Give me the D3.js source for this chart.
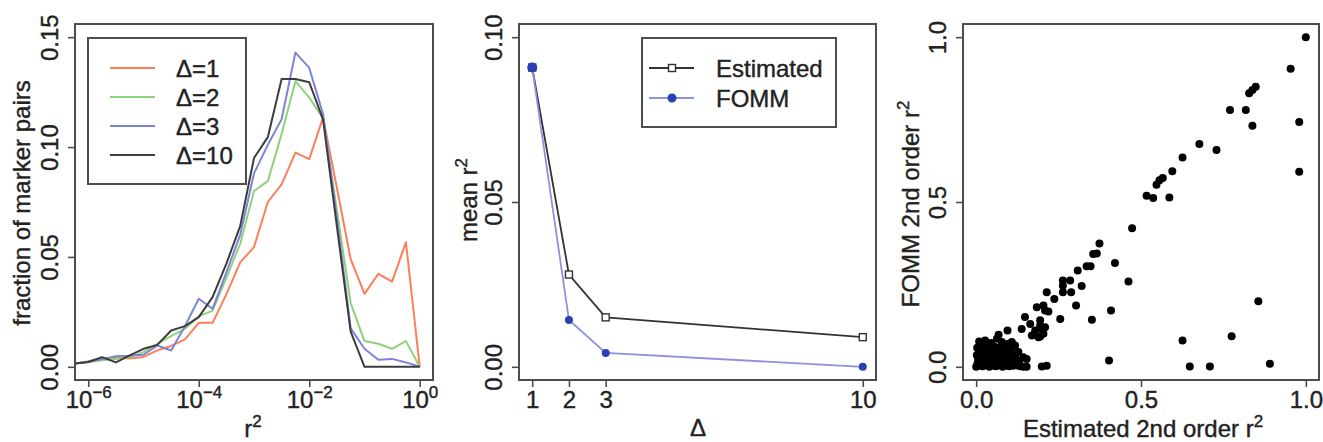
<!DOCTYPE html>
<html>
<head>
<meta charset="utf-8">
<script src="https://cdn.jsdelivr.net/npm/d3@7"></script>
<style>
  body { margin: 0; background: #fff; }
  svg { display: block; font-family: "Liberation Sans", Arial, sans-serif; }
  text { stroke: #222; stroke-width: 0.4px; }
</style>
</head>
<body>
<svg id="fig" width="1323" height="442"></svg>
<script>
// ---------- data ----------
// left panel: histogram of r^2 (log10 bins)
const binLog10 = [-6.25, -6, -5.75, -5.5, -5.25, -5, -4.75, -4.5, -4.25, -4, -3.75, -3.5, -3.25,
  -3, -2.75, -2.5, -2.25, -2, -1.75, -1.5, -1.25, -1, -0.75, -0.5, -0.25, 0];
const fracDelta1 = [0.0015, 0.0025, 0.0038, 0.0042, 0.0038, 0.0045, 0.0075, 0.0095, 0.0125, 0.0200, 0.0200, 0.0330, 0.0475,
  0.0545, 0.0750, 0.0830, 0.0975, 0.0945, 0.1135, 0.0815, 0.0490, 0.0332, 0.0423, 0.0388, 0.0567, 0];
const fracDelta2 = [0.0015, 0.0022, 0.0030, 0.0036, 0.0045, 0.0067, 0.0105, 0.0140, 0.0173, 0.0230, 0.0256, 0.0405, 0.0560,
  0.0800, 0.0845, 0.1060, 0.1300, 0.1225, 0.1130, 0.0715, 0.0290, 0.0117, 0.0105, 0.0082, 0.0117, 0];
const fracDelta3 = [0.0015, 0.0022, 0.0035, 0.0048, 0.0050, 0.0055, 0.0097, 0.0074, 0.0185, 0.0310, 0.0264, 0.0430, 0.0600,
  0.0880, 0.1010, 0.1127, 0.1430, 0.1360, 0.1150, 0.0680, 0.0175, 0.0082, 0.0032, 0.0036, 0.0020, 0];
const fracDelta10 = [0.0015, 0.0022, 0.0044, 0.0020, 0.0052, 0.0082, 0.0100, 0.0165, 0.0185, 0.0226, 0.0317, 0.0470, 0.0640,
  0.0950, 0.1045, 0.1310, 0.1310, 0.1295, 0.1125, 0.0640, 0.0160, 0, 0, 0, 0, 0];
const histLabels = ["Δ=1", "Δ=2", "Δ=3", "Δ=10"];
const histColors = ["#fa7f5a", "#8fd27c", "#7d84d8", "#3d3d3d"];
const histXTicks = [1e-6, 1e-4, 1e-2, 1];
const histYTicks = [0, 0.05, 0.10, 0.15];
const histYLabels = ["0.00", "0.05", "0.10", "0.15"];

// middle panel: mean r^2 by Delta
const deltas = [1, 2, 3, 10];
const meanEstimated = [0.0908, 0.0280, 0.0150, 0.0090];
const meanFOMM = [0.0908, 0.0142, 0.0042, 0.0000];
const meanYTicks = [0, 0.05, 0.10];
const meanYLabels = ["0.00", "0.05", "0.10"];

// right panel: estimated vs FOMM 2nd order r^2  [estimated, fomm]
const scatterPoints = [
  [1.0, 1.0], [0.954, 0.904], [0.980, 0.743], [0.980, 0.592], [0.828, 0.830], [0.838, 0.840], [0.848, 0.850],
  [0.770, 0.779], [0.818, 0.779], [0.838, 0.731], [0.677, 0.676], [0.729, 0.658], [0.626, 0.635], [0.595, 0.593],
  [0.566, 0.573], [0.547, 0.552], [0.556, 0.566], [0.517, 0.519], [0.537, 0.512], [0.586, 0.514], [0.473, 0.420],
  [0.421, 0.315], [0.374, 0.374], [0.355, 0.342], [0.366, 0.344], [0.335, 0.305], [0.347, 0.305], [0.308, 0.292],
  [0.462, 0.259], [0.320, 0.245], [0.285, 0.262], [0.263, 0.262], [0.263, 0.246], [0.288, 0.226], [0.263, 0.226],
  [0.237, 0.206], [0.214, 0.226], [0.303, 0.186], [0.409, 0.171], [0.255, 0.145], [0.351, 0.143], [0.856, 0.199],
  [0.775, 0.093], [0.626, 0.080], [0.403, 0.019], [0.648, 0.001], [0.709, 0.001], [0.891, 0.009],
  [0.204, 0.186], [0.209, 0.171], [0.219, 0.168], [0.194, 0.141], [0.209, 0.120], [0.199, 0.115], [0.194, 0.092],
  [0.199, 0.001], [0.214, 0.003], [0.184, 0.181], [0.148, 0.151], [0.138, 0.115], [0.164, 0.130], [0.179, 0.110],
  [0.194, 0.125], [0.169, 0.095], [0.189, 0.090], [0.204, 0.100], [0.143, 0.000], [0.153, 0.000],
  [0.009, 0.077], [0.027, 0.080], [0.068, 0.097], [0.095, 0.110], [0.063, 0.085], [0.078, 0.075], [0.108, 0.075],
  [0.118, 0.065], [0.128, 0.045], [0.143, 0.029], [0.153, 0.024],
  [0.000, 0.000], [0.004, 0.010], [0.006, 0.022], [0.002, 0.035], [0.008, 0.045], [0.010, 0.004], [0.012, 0.016],
  [0.014, 0.028], [0.016, 0.040], [0.018, 0.052], [0.020, 0.002], [0.022, 0.012], [0.024, 0.024], [0.026, 0.034],
  [0.028, 0.046], [0.030, 0.006], [0.032, 0.018], [0.034, 0.030], [0.036, 0.042], [0.038, 0.056], [0.040, 0.000],
  [0.042, 0.010], [0.044, 0.021], [0.046, 0.033], [0.048, 0.044], [0.050, 0.004], [0.052, 0.015], [0.054, 0.027],
  [0.056, 0.038], [0.058, 0.060], [0.060, 0.002], [0.062, 0.012], [0.064, 0.024], [0.066, 0.036], [0.068, 0.048],
  [0.070, 0.006], [0.072, 0.017], [0.074, 0.029], [0.076, 0.041], [0.078, 0.063], [0.080, 0.000], [0.082, 0.011],
  [0.084, 0.022], [0.086, 0.034], [0.088, 0.052], [0.090, 0.004], [0.092, 0.015], [0.094, 0.026], [0.096, 0.040],
  [0.098, 0.070], [0.100, 0.002], [0.103, 0.012], [0.106, 0.024], [0.109, 0.036], [0.112, 0.003], [0.115, 0.016],
  [0.118, 0.028], [0.121, 0.008], [0.124, 0.020], [0.127, 0.004], [0.130, 0.012], [0.134, 0.002], [0.003, 0.058],
  [0.012, 0.064], [0.024, 0.068], [0.045, 0.072], [0.050, 0.062], [0.070, 0.055], [0.085, 0.065], [0.105, 0.050]
];
const scatterTicks = [0, 0.5, 1.0];
const scatterTickLabels = ["0.0", "0.5", "1.0"];

// ---------- shared styling ----------
const frameColor = "#4d4d4d";
const textColor = "#222";
const plotTop = 24, plotBottom = 380;

const svg = d3.select("#fig");

const drawFrame = (x0, x1) => {
  svg.append("rect")
    .attr("x", x0).attr("y", plotTop)
    .attr("width", x1 - x0).attr("height", plotBottom - plotTop)
    .attr("fill", "none")
    .attr("stroke", frameColor)
    .attr("stroke-width", 2);
};

const styleAxis = (g) => {
  g.attr("font-size", 24).attr("font-family", null);
  g.select(".domain").remove();
  g.selectAll(".tick line").attr("stroke", frameColor).attr("stroke-width", 1.6);
  g.selectAll(".tick text").attr("fill", textColor);
};

const yAxis = (scale, x0, ticks, labels) => {
  const g = svg.append("g")
    .attr("transform", `translate(${x0},0)`)
    .call(d3.axisLeft(scale).tickValues(ticks).tickSize(7)
      .tickFormat((d, i) => labels[i]));
  styleAxis(g);
  g.selectAll(".tick text")
    .attr("x", null).attr("dy", null)
    .attr("text-anchor", "middle")
    .attr("transform", "translate(-17,0) rotate(-90)");
  return g;
};

const xAxis = (scale, ticks, fmt) => {
  const g = svg.append("g")
    .attr("transform", `translate(0,${plotBottom})`)
    .call(d3.axisBottom(scale).tickValues(ticks).tickSize(7).tickFormat(fmt));
  styleAxis(g);
  g.selectAll(".tick text").attr("y", 28).attr("dy", null);
  return g;
};

// text with an optional trailing superscript
const labelWithSup = (x, y, base, sup, rotate) => {
  const t = svg.append("text")
    .attr("transform", `translate(${x},${y})` + (rotate ? " rotate(-90)" : ""))
    .attr("text-anchor", "middle")
    .attr("font-size", 24)
    .attr("fill", textColor);
  t.append("tspan").text(base);
  if (sup) {
    t.append("tspan").attr("dy", -10).attr("font-size", 17).text(sup);
  }
  return t;
};

// ---------- left panel ----------
const xL = d3.scaleLog().domain([Math.pow(10, -6.24), Math.pow(10, 0.24)]).range([75, 433]);
const yL = d3.scaleLinear().domain([-0.006, 0.156]).range([plotBottom, plotTop]);

svg.append("clipPath").attr("id", "clipL")
  .append("rect").attr("x", 75).attr("y", plotTop).attr("width", 358).attr("height", plotBottom - plotTop);

const histSeries = [fracDelta1, fracDelta2, fracDelta3, fracDelta10];
const histLine = d3.line()
  .x((d, i) => xL(Math.pow(10, binLog10[i])))
  .y((d) => yL(d));

svg.append("g").attr("clip-path", "url(#clipL)")
  .selectAll("path")
  .data(histSeries)
  .enter()
  .append("path")
  .attr("d", histLine)
  .attr("fill", "none")
  .attr("stroke", (d, i) => histColors[i])
  .attr("stroke-width", 2)
  .attr("stroke-linejoin", "round");

drawFrame(75, 433);
yAxis(yL, 75, histYTicks, histYLabels);

const gxL = xAxis(xL, histXTicks, () => "");
gxL.selectAll(".tick text").each(function (d) {
  const t = d3.select(this);
  const e = Math.round(Math.log10(d));
  t.append("tspan").text("10");
  t.append("tspan").attr("dy", -10).attr("font-size", 17).text(e < 0 ? "\u2212" + -e : e);
});

labelWithSup(30, 203, "fraction of marker pairs", null, true);
labelWithSup(253, 437, "r", "2", false);

// legend
svg.append("rect")
  .attr("x", 88).attr("y", 38).attr("width", 158).attr("height", 146)
  .attr("fill", "#fff").attr("stroke", frameColor).attr("stroke-width", 2);
histLabels.forEach((lab, i) => {
  const ly = 68 + i * 29;
  svg.append("line")
    .attr("x1", 110).attr("x2", 155).attr("y1", ly).attr("y2", ly)
    .attr("stroke", histColors[i]).attr("stroke-width", 2);
  svg.append("text")
    .attr("x", 176).attr("y", ly + 9)
    .attr("font-size", 24).attr("fill", textColor)
    .text(lab);
});

// ---------- middle panel ----------
const xM = d3.scaleLinear().domain([0.64, 10.36]).range([519, 876]);
const yM = d3.scaleLinear().domain([-0.004, 0.104]).range([plotBottom, plotTop]);

const estColor = "#333";
const fommLineColor = "#8d92dd";
const fommPointColor = "#2d3fb5";

const meanLine = d3.line().x((d, i) => xM(deltas[i])).y((d) => yM(d));

svg.append("path").datum(meanEstimated)
  .attr("d", meanLine).attr("fill", "none")
  .attr("stroke", estColor).attr("stroke-width", 1.8);
svg.selectAll(".est-pt").data(meanEstimated).enter()
  .append("rect").attr("class", "est-pt")
  .attr("x", (d, i) => xM(deltas[i]) - 3.5).attr("y", (d) => yM(d) - 3.5)
  .attr("width", 7).attr("height", 7)
  .attr("fill", "#fff").attr("stroke", estColor).attr("stroke-width", 1.4);

svg.append("path").datum(meanFOMM)
  .attr("d", meanLine).attr("fill", "none")
  .attr("stroke", fommLineColor).attr("stroke-width", 1.8);
svg.selectAll(".fomm-pt").data(meanFOMM).enter()
  .append("circle").attr("class", "fomm-pt")
  .attr("cx", (d, i) => xM(deltas[i])).attr("cy", (d) => yM(d))
  .attr("r", (d, i) => (i === 0 ? 5 : 4)).attr("fill", fommPointColor);

drawFrame(519, 876);
yAxis(yM, 519, meanYTicks, meanYLabels);
xAxis(xM, deltas, (d) => d);

labelWithSup(477, 200, "mean r", "2", true);
svg.append("text")
  .attr("x", 698).attr("y", 436).attr("text-anchor", "middle")
  .attr("font-size", 24).attr("fill", textColor).text("Δ");

// legend
svg.append("rect")
  .attr("x", 642).attr("y", 38).attr("width", 194).attr("height", 89)
  .attr("fill", "#fff").attr("stroke", frameColor).attr("stroke-width", 2);
svg.append("line").attr("x1", 649).attr("x2", 694).attr("y1", 68).attr("y2", 68)
  .attr("stroke", estColor).attr("stroke-width", 1.8);
svg.append("rect").attr("x", 668.5).attr("y", 64.5).attr("width", 7).attr("height", 7)
  .attr("fill", "#fff").attr("stroke", estColor).attr("stroke-width", 1.4);
svg.append("text").attr("x", 716).attr("y", 77)
  .attr("font-size", 24).attr("fill", textColor).text("Estimated");
svg.append("line").attr("x1", 649).attr("x2", 694).attr("y1", 98).attr("y2", 98)
  .attr("stroke", fommLineColor).attr("stroke-width", 1.8);
svg.append("circle").attr("cx", 672).attr("cy", 98).attr("r", 4.5).attr("fill", fommPointColor);
svg.append("text").attr("x", 716).attr("y", 107)
  .attr("font-size", 24).attr("fill", textColor).text("FOMM");

// ---------- right panel ----------
const xR = d3.scaleLinear().domain([-0.04, 1.04]).range([963, 1319]);
const yR = d3.scaleLinear().domain([-0.04, 1.04]).range([plotBottom, plotTop]);

svg.selectAll(".sc-pt").data(scatterPoints).enter()
  .append("circle").attr("class", "sc-pt")
  .attr("cx", (d) => xR(d[0])).attr("cy", (d) => yR(d[1]))
  .attr("r", 4).attr("fill", "#000");

drawFrame(963, 1319);
yAxis(yR, 963, scatterTicks, scatterTickLabels);
xAxis(xR, scatterTicks, (d, i) => scatterTickLabels[i]);

labelWithSup(919, 204, "FOMM 2nd order r", "2", true);
labelWithSup(1143, 437, "Estimated 2nd order r", "2", false);
</script>
</body>
</html>
